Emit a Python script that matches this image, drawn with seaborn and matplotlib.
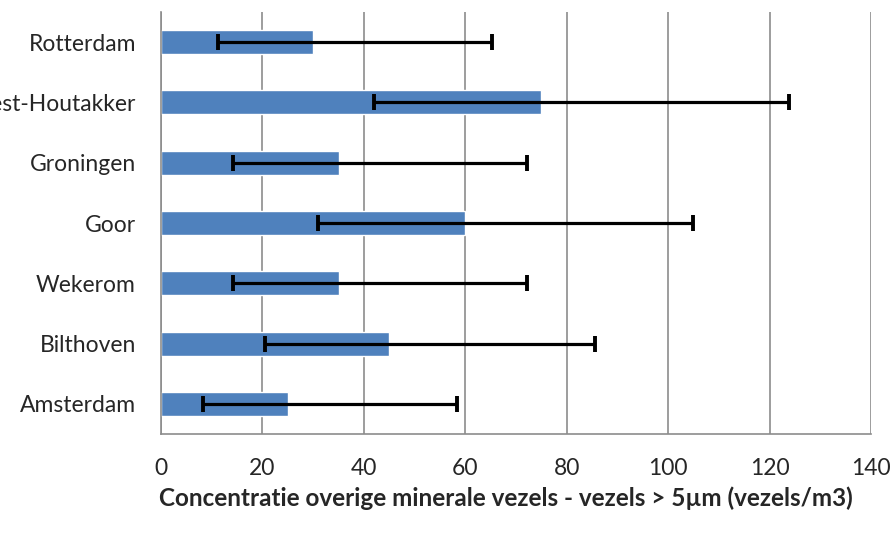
import numpy as np
import pandas as pd
import matplotlib
matplotlib.use("Agg")
import matplotlib.pyplot as plt
import seaborn as sns

# data
plaatsen = ["Rotterdam", "Biest-Houtakker", "Groningen", "Goor", "Wekerom", "Bilthoven", "Amsterdam"]
concentratie = [30, 75, 35, 60, 35, 45, 25]
ondergrens = [11.2, 42, 14.2, 31, 14.2, 20.5, 8.2]
bovengrens = [65.3, 123.8, 72.2, 104.9, 72.2, 85.6, 58.4]

df = pd.DataFrame({"plaats": plaatsen, "conc": concentratie})

sns.set_style("white")
plt.rcParams["font.family"] = ["Lato", "DejaVu Sans"]

fig = plt.figure(figsize=(8.93, 5.38), dpi=100)
ax = fig.add_axes([0.1803, 0.1933, 0.7951, 0.7844])

sns.barplot(data=df, x="conc", y="plaats", orient="h", color="#4f81bd",
            saturation=1, width=0.4, ax=ax)

ypos = np.arange(len(plaatsen))
err = [np.array(concentratie) - np.array(ondergrens),
       np.array(bovengrens) - np.array(concentratie)]
ax.errorbar(concentratie, ypos, xerr=err, fmt="none", ecolor="black",
            elinewidth=2.3, capsize=6, capthick=2.8, zorder=3)

ax.set_xlim(0, 140)
ax.set_ylim(6.5, -0.5)
ax.set_xticks(np.arange(0, 141, 20))
ax.grid(axis="x", color="#8c8c8c", linewidth=1.2)
ax.set_axisbelow(True)

for s in ["top", "right"]:
    ax.spines[s].set_visible(False)
for s in ["left", "bottom"]:
    ax.spines[s].set_color("#8c8c8c")
    ax.spines[s].set_linewidth(1.2)

ax.tick_params(axis="y", which="major", length=0, pad=18, labelsize=16.5)
ax.set_yticks(np.arange(-0.5, 7, 1), minor=True)
ax.tick_params(axis="y", which="minor", length=7, width=1.2, color="#8c8c8c", direction="out")
ax.tick_params(axis="x", which="major", length=7, width=1.2, color="#8c8c8c",
               direction="out", pad=10, labelsize=16.5)

ax.set_ylabel("")
ax.set_xlabel("Concentratie overige minerale vezels - vezels > 5µm (vezels/m3)",
              fontsize=17.5, fontweight="bold", va="center")
ax.xaxis.set_label_coords(0.486, -0.152)

fig.savefig("out.png", dpi=100)
